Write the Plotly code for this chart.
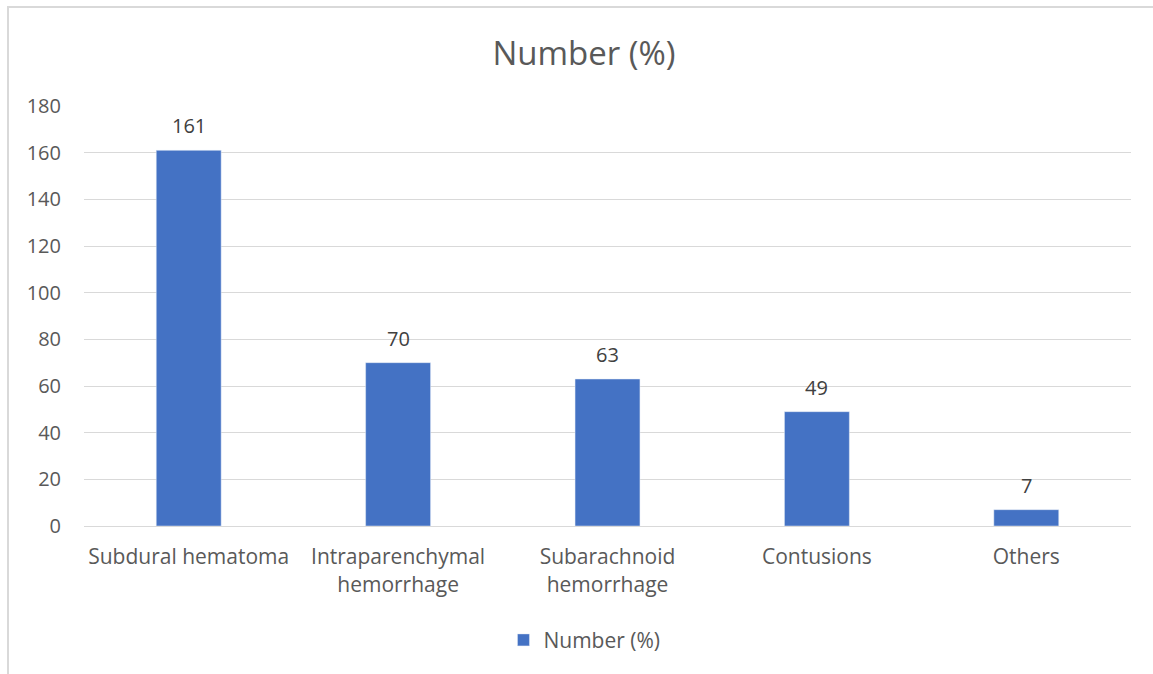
import plotly.graph_objects as go

categories = ["Subdural hematoma", "Intraparenchymal<br>hemorrhage", "Subarachnoid<br>hemorrhage", "Contusions", "Others"]
values = [161, 70, 63, 49, 7]
series_name = "Number (%)"
y_ticks = [0, 20, 40, 60, 80, 100, 120, 140, 160, 180]

FONT = "Open Sans"
GRAY = "#595959"

fig = go.Figure()
fig.add_trace(go.Bar(
    x=categories, y=values, name=series_name,
    marker_color="#4472C4",
    cliponaxis=False,
))
for c, v in zip(categories, values):
    fig.add_annotation(x=c, y=v, text=str(v), showarrow=False, yanchor="bottom",
                       yshift=9, font=dict(family=FONT, size=20, color="#404040"))

fig.update_layout(
    width=1153, height=674,
    margin=dict(l=84, r=22, t=106, b=148),
    paper_bgcolor="white", plot_bgcolor="white",
    bargap=0.69,
    showlegend=True,
    title=dict(text="Number (%)", x=584 / 1153, xref="container", xanchor="center",
               y=1 - 53 / 674, yref="container", yanchor="middle",
               font=dict(family=FONT, size=33, color=GRAY)),
    legend=dict(orientation="h", x=0.478, xanchor="center", y=-0.272, yanchor="middle",
                font=dict(family=FONT, size=21, color=GRAY)),
    font=dict(family=FONT, color=GRAY),
)
fig.update_yaxes(range=[0, 180], tickvals=y_ticks, showgrid=True, gridcolor="#D9D9D9",
                 gridwidth=1, zeroline=False, showline=False, ticks="",
                 tickfont=dict(family=FONT, size=20, color=GRAY), ticklabelstandoff=22)
fig.update_xaxes(showline=True, linecolor="#D9D9D9", linewidth=1, ticks="",
                 tickfont=dict(family=FONT, size=21, color=GRAY), ticklabelstandoff=12)

fig.add_shape(type="rect", xref="paper", yref="paper",
              x0=(8 - 84) / 1047, x1=1.05, y0=-0.5, y1=1 + (106 - 7) / 420,
              line=dict(color="#D9D9D9", width=2), fillcolor="rgba(0,0,0,0)", layer="below")

fig.write_html("out.html")
